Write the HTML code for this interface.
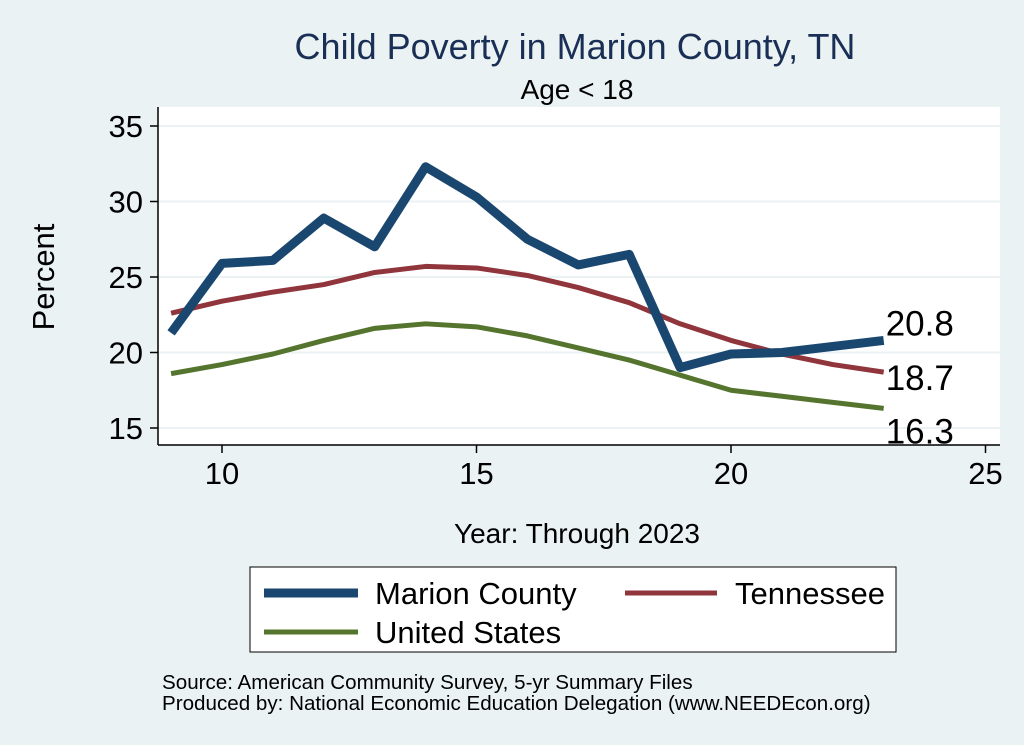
<!DOCTYPE html>
<html><head><meta charset="utf-8"><style>
body{margin:0;background:#eaf2f3;}
svg{display:block;font-family:"Liberation Sans",Arial,sans-serif;}
</style></head><body>
<svg id="chart" width="1024" height="745">
<rect x="0" y="0" width="1024" height="745" fill="#eaf2f3"/>
<text x="575" y="59" font-size="36" fill="#1a2f55" text-anchor="middle">Child Poverty in Marion County, TN</text>
<text x="577" y="99" font-size="28" fill="#000" text-anchor="middle">Age &lt; 18</text>
<rect x="158" y="107" width="842" height="338" fill="#fff"/>
<g id="grid"></g>
<line x1="158" y1="107" x2="158" y2="445" stroke="#000" stroke-width="1.5"/>
<line x1="158" y1="445" x2="1000" y2="445" stroke="#000" stroke-width="1.5"/>
<g id="ticks"></g>
<g id="series"></g>
<text x="54" y="277" font-size="31" text-anchor="middle" transform="rotate(-90 54 277)">Percent</text>
<text x="577" y="543" font-size="28" text-anchor="middle">Year: Through 2023</text>
<g>
<rect x="250" y="567" width="646" height="85" fill="#fff" stroke="#000" stroke-width="1"/>
<line x1="264" y1="593" x2="358" y2="593" stroke="#1a476f" stroke-width="9"/>
<text x="375" y="604" font-size="31">Marion County</text>
<line x1="625" y1="593" x2="717" y2="593" stroke="#90353b" stroke-width="5"/>
<text x="735" y="604" font-size="31">Tennessee</text>
<line x1="264" y1="632" x2="358" y2="632" stroke="#55752f" stroke-width="5"/>
<text x="375" y="643" font-size="31">United States</text>
</g>
<text x="162" y="689" font-size="20.6">Source: American Community Survey, 5-yr Summary Files</text>
<text x="162" y="710" font-size="20.6">Produced by: National Economic Education Delegation (www.NEEDEcon.org)</text>
</svg>
<script>
const years=[9,10,11,12,13,14,15,16,17,18,19,20,21,22,23];
const marion=[21.3,25.9,26.1,28.9,27.0,32.3,30.3,27.5,25.8,26.5,19.0,19.9,20.0,20.4,20.8];
const tennessee=[22.6,23.4,24.0,24.5,25.3,25.7,25.6,25.1,24.3,23.3,21.9,20.8,19.9,19.2,18.7];
const unitedStates=[18.6,19.2,19.9,20.8,21.6,21.9,21.7,21.1,20.3,19.5,18.5,17.5,17.1,16.7,16.3];
const xTicks=[10,15,20,25];
const yTicks=[15,20,25,30,35];
const NS='http://www.w3.org/2000/svg';
function xs(v){return 222+(v-10)*50.9;}
function ys(v){return 428-(v-15)*15.1;}
function mk(tag,attrs,parent){const e=document.createElementNS(NS,tag);for(const k in attrs)e.setAttribute(k,attrs[k]);document.getElementById(parent).appendChild(e);return e;}
yTicks.forEach(t=>{
 const g=mk('line',{x1:158,x2:1000,y1:ys(t),y2:ys(t),stroke:'#eaf2f3','stroke-width':2},'grid');
 
 
 const tk=mk('line',{x1:150,x2:158,y1:ys(t),y2:ys(t),stroke:'#000','stroke-width':1.5},'ticks');
 
 
 const tx=mk('text',{x:143,y:ys(t)+11,'font-size':31,'text-anchor':'end'},'ticks');
 tx.textContent=t;
 
 
});
xTicks.forEach(t=>{
 const tk=mk('line',{x1:xs(t),x2:xs(t),y1:445,y2:453,stroke:'#000','stroke-width':1.5},'ticks');
 
 
 const tx=mk('text',{x:xs(t),y:484,'font-size':31,'text-anchor':'middle'},'ticks');
 tx.textContent=t;
 
 
});
function series(vals,color,w,name,labelDy){
 const d=vals.map((v,i)=>(i?'L':'M')+xs(years[i])+','+ys(v)).join(' ');
 const p=mk('path',{d:d,fill:'none',stroke:color,'stroke-width':w,'stroke-linejoin':'round'},'series');
 
 
 const last=vals[vals.length-1];
 const t=mk('text',{x:xs(years[years.length-1])+2,y:ys(last)+labelDy,'font-size':35},'series');
 t.textContent=last.toFixed(1);
 
 
}
series(unitedStates,'#55752f',5,'united-states',35);
series(tennessee,'#90353b',5,'tennessee',18);
series(marion,'#1a476f',9,'marion-county',-5);
</script>
</body></html>
